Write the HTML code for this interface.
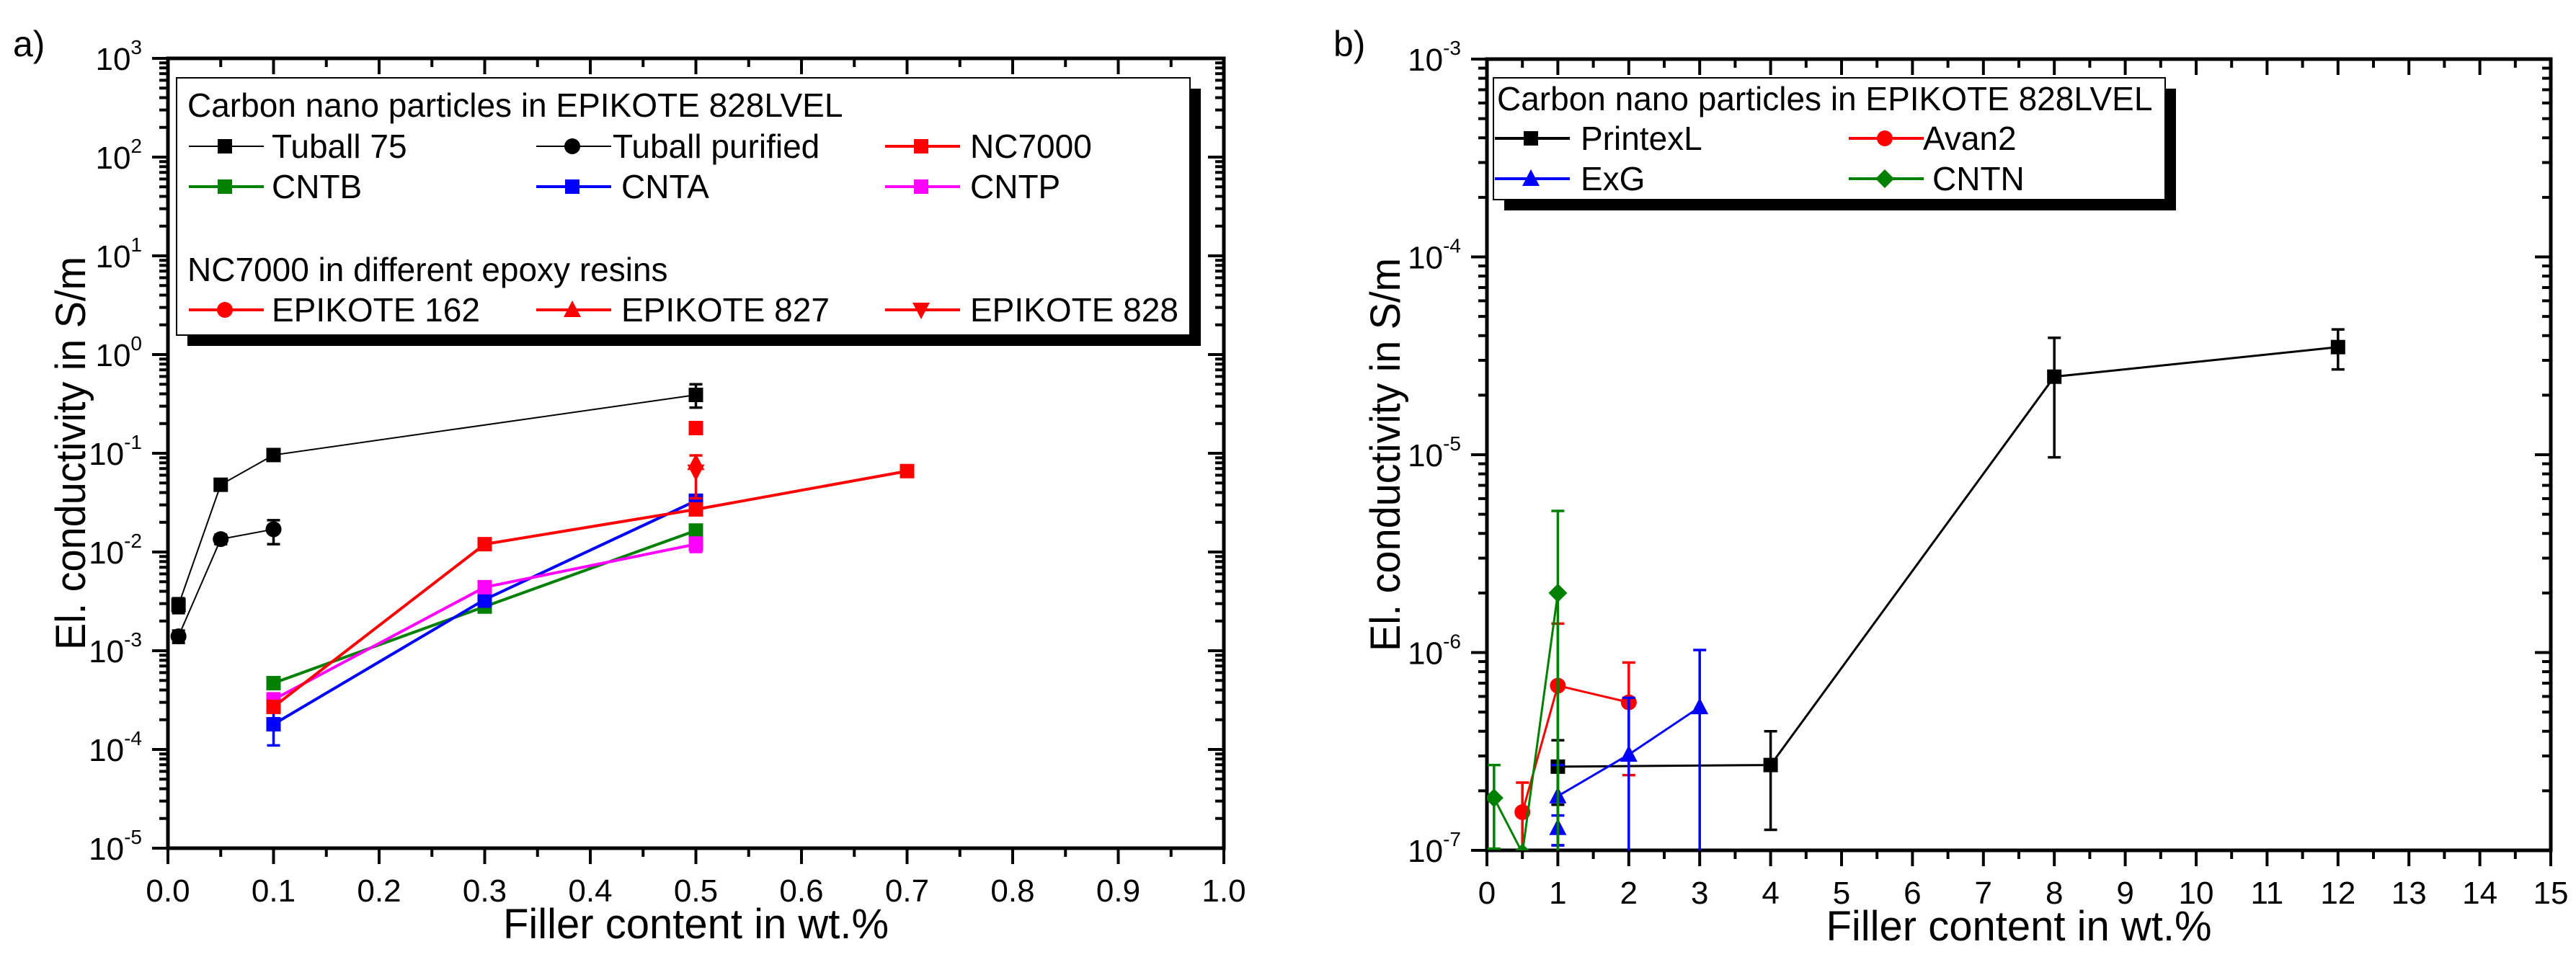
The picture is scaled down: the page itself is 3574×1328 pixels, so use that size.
<!DOCTYPE html>
<html><head><meta charset="utf-8"><style>
html,body{margin:0;padding:0;background:#fff}
svg{display:block;font-family:"Liberation Sans",Arial,sans-serif}
</style></head><body>
<svg id="chart" width="3574" height="1328" viewBox="0 0 3574 1328" xmlns="http://www.w3.org/2000/svg"></svg>
<script>
// ---- Panel a data ----
const aTuball75X=[0.01,0.05,0.1,0.5];
const aTuball75Y=[2.9e-3,0.048,0.096,0.39];
const aTuball75Lo=[2.4e-3,0.042,0.088,0.29];
const aTuball75Hi=[3.4e-3,0.054,0.105,0.5];
const aTubPurX=[0.01,0.05,0.1];
const aTubPurY=[1.4e-3,0.0135,0.017];
const aTubPurLo=[1.2e-3,0.012,0.012];
const aTubPurHi=[1.6e-3,0.015,0.021];
const aNC7000X=[0.1,0.3,0.5,0.7];
const aNC7000Y=[2.7e-4,0.012,0.027,0.066];
const aCNTBX=[0.1,0.3,0.5];
const aCNTBY=[4.7e-4,2.8e-3,0.0165];
const aCNTAX=[0.1,0.3,0.5];
const aCNTAY=[1.8e-4,3.3e-3,0.033];
const aCNTALo=[1.1e-4,2.8e-3,0.027];
const aCNTAHi=[2.5e-4,3.8e-3,0.038];
const aCNTPX=[0.1,0.3,0.5];
const aCNTPY=[3.2e-4,4.4e-3,0.012];
const aCNTPLo=[2.7e-4,3.9e-3,0.010];
const aCNTPHi=[3.7e-4,4.9e-3,0.014];
const aE162X=[0.5]; const aE162Y=[0.18];
const aE827X=[0.5]; const aE827Y=[0.08];
const aE828X=[0.5]; const aE828Y=[0.065]; const aE828Lo=[0.035]; const aE828Hi=[0.095];
const aXTicks=["0.0","0.1","0.2","0.3","0.4","0.5","0.6","0.7","0.8","0.9","1.0"];
const aYExp=[3,2,1,0,-1,-2,-3,-4,-5];
// ---- Panel b data ----
const bPrintexX=[1,4,8,12];
const bPrintexY=[2.65e-7,2.7e-7,2.48e-5,3.5e-5];
const bPrintexLo=[1.7e-7,1.27e-7,9.7e-6,2.7e-5];
const bPrintexHi=[3.6e-7,4.0e-7,3.9e-5,4.3e-5];
const bAvanX=[0.5,1,2];
const bAvanY=[1.56e-7,6.8e-7,5.6e-7];
const bAvanLo=[0.5e-7,0.5e-7,2.4e-7];
const bAvanHi=[2.2e-7,1.4e-6,8.9e-7];
const bExGX=[1,1,2,3];
const bExGY=[1.3e-7,1.88e-7,3.05e-7,5.3e-7];
const bExGLo=[1.06e-7,1.06e-7,0.5e-7,0.5e-7];
const bExGHi=[1.5e-7,2.7e-7,5.9e-7,1.03e-6];
const bCNTNX=[0.1,0.5,1];
const bCNTNY=[1.84e-7,0.97e-7,2.0e-6];
const bCNTNLo=[1.02e-7,0.9e-7,0.5e-7];
const bCNTNHi=[2.7e-7,1.0e-7,5.2e-6];
const bXTicks=["0","1","2","3","4","5","6","7","8","9","10","11","12","13","14","15"];
const bYExp=[-3,-4,-5,-6,-7];

const NS="http://www.w3.org/2000/svg";
const svg=document.getElementById('chart');
function mk(tag,attrs,parent){const e=document.createElementNS(NS,tag);for(const k in attrs)e.setAttribute(k,attrs[k]);(parent||svg).appendChild(e);return e;}

function makeAxes(P){
  P.sx=v=>P.x0+(v-P.xmin)/(P.xmax-P.xmin)*(P.x1-P.x0);
  P.sy=v=>P.y1-(Math.log10(v)-P.emin)/(P.emax-P.emin)*(P.y1-P.y0);
  const g=mk('g',{});
  
  
  const nx=Math.round((P.xmax-P.xmin)/P.xstep);
  for(let i=0;i<=nx;i++){
    const v=P.xmin+i*P.xstep,x=P.sx(v);
    mk('line',{x1:x,x2:x,y1:P.y1,y2:P.y1+22,stroke:'#000','stroke-width':4},g);
    mk('line',{x1:x,x2:x,y1:P.y0,y2:P.y0+22,stroke:'#000','stroke-width':4},g);
    const t=mk('text',{x:x,y:P.y1+74,'font-size':44,'text-anchor':'middle'},g);
    t.textContent=P.xticks[i];
    
    
    if(i<nx){const xm=P.sx(v+P.xstep/2);
      mk('line',{x1:xm,x2:xm,y1:P.y1,y2:P.y1+12,stroke:'#000','stroke-width':4},g);
      mk('line',{x1:xm,x2:xm,y1:P.y0,y2:P.y0+12,stroke:'#000','stroke-width':4},g);}
  }
  for(const e of P.yexp){
    const y=P.sy(Math.pow(10,e));
    mk('line',{x1:P.x0-22,x2:P.x0,y1:y,y2:y,stroke:'#000','stroke-width':4},g);
    mk('line',{x1:P.x1-22,x2:P.x1,y1:y,y2:y,stroke:'#000','stroke-width':4},g);
    const t=mk('text',{x:P.x0-36,y:y+16,'font-size':44,'text-anchor':'end'},g);
    
    
    t.appendChild(document.createTextNode('10'));
    const ts=mk('tspan',{dy:-22,'font-size':28},t);ts.textContent=String(e);
    if(e>P.emin){for(let m=2;m<=9;m++){const ym=P.sy(m*Math.pow(10,e-1));
      mk('line',{x1:P.x0-12,x2:P.x0,y1:ym,y2:ym,stroke:'#000','stroke-width':4},g);
      mk('line',{x1:P.x1-12,x2:P.x1,y1:ym,y2:ym,stroke:'#000','stroke-width':4},g);}}
  }
  const fr=mk('rect',{x:P.x0,y:P.y0,width:P.x1-P.x0,height:P.y1-P.y0,fill:'none',stroke:'#000','stroke-width':5},g);
  
  
  const xt=mk('text',{x:(P.x0+P.x1)/2,y:P.y1+125,'font-size':58,'text-anchor':'middle'},g);
  xt.textContent='Filler content in wt.%';
  
  
  const cy=(P.y0+P.y1)/2;
  const yt=mk('text',{x:P.ytx,y:cy,'font-size':58,'text-anchor':'middle',textLength:546,lengthAdjust:'spacingAndGlyphs',transform:`rotate(-90 ${P.ytx} ${cy})`},g);
  yt.textContent='El. conductivity in S/m';
  
  
  const cid='clip-'+P.name;
  const cp=mk('clipPath',{id:cid});
  mk('rect',{x:P.x0,y:P.y0,width:P.x1-P.x0,height:P.y1-P.y0},cp);
  P.clip=cid;
}

function marker(g,shape,x,y,c,s){
  s=s||10;
  if(shape==='sq') mk('rect',{x:x-s,y:y-s,width:2*s,height:2*s,fill:c},g);
  else if(shape==='ci') mk('circle',{cx:x,cy:y,r:s+1,fill:c},g);
  else if(shape==='tu') mk('polygon',{points:`${x},${y-s-3} ${x-s-2},${y+s} ${x+s+2},${y+s}`,fill:c},g);
  else if(shape==='td') mk('polygon',{points:`${x},${y+s+3} ${x-s-2},${y-s} ${x+s+2},${y-s}`,fill:c},g);
  else if(shape==='di') mk('polygon',{points:`${x},${y-s-3} ${x+s+3},${y} ${x},${y+s+3} ${x-s-3},${y}`,fill:c},g);
}

function series(P,name,xs,ys,lo,hi,color,shape,lw){
  const g=mk('g',{'clip-path':`url(#${P.clip})`});
  
  
  if(xs.length>1) mk('polyline',{points:xs.map((x,i)=>P.sx(x)+','+P.sy(ys[i])).join(' '),fill:'none',stroke:color,'stroke-width':lw},g);
  if(lo){xs.forEach((x,i)=>{const X=P.sx(x),a=P.sy(lo[i]),b=P.sy(hi[i]);
    mk('line',{x1:X,x2:X,y1:a,y2:b,stroke:color,'stroke-width':3.5},g);
    mk('line',{x1:X-9,x2:X+9,y1:a,y2:a,stroke:color,'stroke-width':3.5},g);
    mk('line',{x1:X-9,x2:X+9,y1:b,y2:b,stroke:color,'stroke-width':3.5},g);});}
  xs.forEach((x,i)=>marker(g,shape,P.sx(x),P.sy(ys[i]),color));
}

function legend(bx,by,bw,bh,name,rows){
  const g=mk('g',{});
  
  
  mk('rect',{x:bx+15,y:by+15,width:bw,height:bh,fill:'#000'},g);
  mk('rect',{x:bx,y:by,width:bw,height:bh,fill:'#fff',stroke:'#000','stroke-width':2},g);
  for(const r of rows){
    if(r.title){const t=mk('text',{x:r.x,y:r.y,'font-size':46},g);t.textContent=r.title;continue;}
    const e=mk('g',{},g);
    
    
    mk('line',{x1:r.x,x2:r.x+104,y1:r.y-16,y2:r.y-16,stroke:r.c,'stroke-width':r.lw},e);
    marker(e,r.m,r.x+50,r.y-16,r.c,10);
    const t=mk('text',{x:r.x+r.tx,y:r.y,'font-size':46},e);t.textContent=r.label;
  }
}

// Panel a
const PA={name:'panel-a',x0:233,x1:1698,y0:81,y1:1177,xmin:0,xmax:1,xstep:0.1,emin:-5,emax:3,xticks:aXTicks,yexp:aYExp,ytx:118};
makeAxes(PA);
series(PA,'series-tuball75',aTuball75X,aTuball75Y,aTuball75Lo,aTuball75Hi,'#000','sq',2);
series(PA,'series-tuball-purified',aTubPurX,aTubPurY,aTubPurLo,aTubPurHi,'#000','ci',2);
series(PA,'series-cntb',aCNTBX,aCNTBY,null,null,'#008000','sq',4);
series(PA,'series-cnta',aCNTAX,aCNTAY,aCNTALo,aCNTAHi,'#0000ff','sq',4);
series(PA,'series-cntp',aCNTPX,aCNTPY,aCNTPLo,aCNTPHi,'#ff00ff','sq',4);
series(PA,'series-nc7000',aNC7000X,aNC7000Y,null,null,'#ff0000','sq',4);
series(PA,'series-epikote162',aE162X,aE162Y,null,null,'#ff0000','sq',4);
series(PA,'series-epikote827',aE827X,aE827Y,null,null,'#ff0000','tu',4);
series(PA,'series-epikote828',aE828X,aE828Y,aE828Lo,aE828Hi,'#ff0000','td',4);
legend(245,108,1406,357,'legend-a',[
 {title:'Carbon nano particles in EPIKOTE 828LVEL',x:260,y:162},
 {x:262,y:219,c:'#000',m:'sq',lw:2,label:'Tuball 75',tx:115},
 {x:744,y:219,c:'#000',m:'ci',lw:2,label:'Tuball purified',tx:106},
 {x:1228,y:219,c:'#ff0000',m:'sq',lw:4,label:'NC7000',tx:118},
 {x:262,y:275,c:'#008000',m:'sq',lw:4,label:'CNTB',tx:115},
 {x:744,y:275,c:'#0000ff',m:'sq',lw:4,label:'CNTA',tx:118},
 {x:1228,y:275,c:'#ff00ff',m:'sq',lw:4,label:'CNTP',tx:118},
 {title:'NC7000 in different epoxy resins',x:260,y:390},
 {x:262,y:446,c:'#ff0000',m:'ci',lw:4,label:'EPIKOTE 162',tx:115},
 {x:744,y:446,c:'#ff0000',m:'tu',lw:4,label:'EPIKOTE 827',tx:118},
 {x:1228,y:446,c:'#ff0000',m:'td',lw:4,label:'EPIKOTE 828',tx:118}
]);

// Panel b
const PB={name:'panel-b',x0:2063,x1:3539,y0:82,y1:1180,xmin:0,xmax:15,xstep:1,emin:-7,emax:-3,xticks:bXTicks,yexp:bYExp,ytx:1942};
makeAxes(PB);
series(PB,'series-printexl',bPrintexX,bPrintexY,bPrintexLo,bPrintexHi,'#000','sq',3);
series(PB,'series-avan2',bAvanX,bAvanY,bAvanLo,bAvanHi,'#ff0000','ci',3);
series(PB,'series-exg',bExGX,bExGY,bExGLo,bExGHi,'#0000ff','tu',3);
series(PB,'series-cntn',bCNTNX,bCNTNY,bCNTNLo,bCNTNHi,'#008000','di',3);
legend(2072,108,932,169,'legend-b',[
 {title:'Carbon nano particles in EPIKOTE 828LVEL',x:2077,y:153},
 {x:2074,y:208,c:'#000',m:'sq',lw:4,label:'PrintexL',tx:119},
 {x:2565,y:208,c:'#ff0000',m:'ci',lw:4,label:'Avan2',tx:103},
 {x:2074,y:264,c:'#0000ff',m:'tu',lw:4,label:'ExG',tx:119},
 {x:2565,y:264,c:'#008000',m:'di',lw:4,label:'CNTN',tx:116}
]);

const la=mk('text',{x:18,y:78,'font-size':50});la.textContent='a)';

const lb=mk('text',{x:1850,y:78,'font-size':50});lb.textContent='b)';

</script>
</body></html>
